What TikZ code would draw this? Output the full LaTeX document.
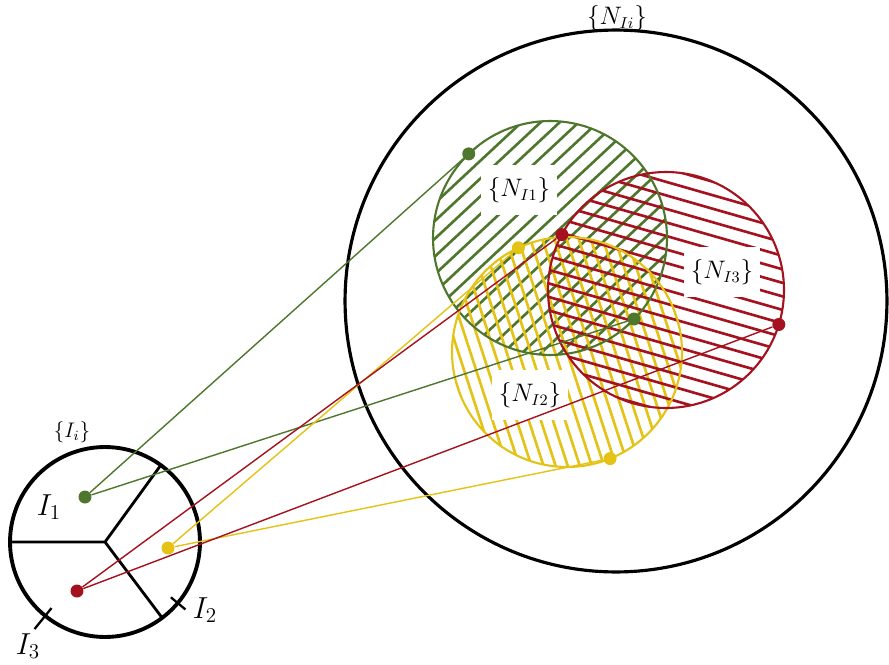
\documentclass[tikz,border=0pt]{standalone}
\usepackage{amsmath,amssymb}
\usepackage{xcolor}
\usepackage{tikz}
\usetikzlibrary{positioning,calc}
\definecolor{grn}{RGB}{78,118,44}
\definecolor{rd}{RGB}{163,18,30}
\definecolor{ylw}{RGB}{228,194,22}
\tikzset{dot/.style={circle,fill=#1,inner sep=0pt,minimum size=0.26cm},lnk/.style={line width=0.8pt,draw=#1},
  disc/.style={circle,draw=#1,line width=1.2pt,inner sep=0pt,outer sep=0pt},
  lbl/.style={fill=white,inner xsep=4pt,inner ysep=7pt,font=\fontsize{13.5}{16}\selectfont},
  sub/.style={font=\fontsize{18}{20}\selectfont}}
\newcommand{\hatchdisk}[5]{%
  \begin{scope}[shift={#1},rotate=#3]
    \clip (0,0) circle (#2);
    \foreach \k in {-12,...,12} \draw[#4,line width=1.5pt] (-#2,\k*#5) -- (#2,\k*#5);
  \end{scope}}

\begin{document}
\begin{tikzpicture}[x=0.02cm,y=0.02cm]
\useasboundingbox (0,0) rectangle (889,664);
% big set
\node[circle,draw,line width=1.8pt,inner sep=0pt,outer sep=0pt,minimum size=10.84cm] (NIi) at (616,363) {};
\node[font=\fontsize{13.5}{16}\selectfont] (tNIi) at (617,646) {$\{N_{Ii}\}$};
% hatched neighbourhoods
\hatchdisk{(550,426)}{117}{43}{grn}{13} \hatchdisk{(567,312)}{115}{-72}{ylw}{11.5} \hatchdisk{(666,374)}{118}{-16}{rd}{13}
\node[lbl] (tN1) at (519,474) {$\{N_{I1}\}$}; \node[lbl] (tN3) at (722,392) {$\{N_{I3}\}$}; \node[lbl] (tN2) at (530,269) {$\{N_{I2}\}$};
\node[disc=grn,minimum size=4.68cm] (N1) at (550,426) {};
\node[disc=ylw,minimum size=4.6cm] (N2) at (567,312) {};
\node[disc=rd,minimum size=4.72cm] (N3) at (666,374) {};
% small set
\node[circle,draw,line width=2.2pt,inner sep=0pt,outer sep=0pt,minimum size=3.8cm] (Ii) at (105,122) {};
\draw[line width=1.6pt] (Ii.center) -- (Ii.180) (Ii.center) -- (Ii.54) (Ii.center) -- (Ii.-53);
\draw[line width=1.3pt] (Ii.center) ++(-40:86) -- ++(-40:19); \draw[line width=1.3pt] (Ii.center) ++(-129:85) -- ++(-129:27);
\node[font=\large] (tIi) at (72,232) {$\{I_i\}$};
\node[sub] (tI1) at (49,157) {$I_1$}; \node[sub] (tI2) at (205,54) {$I_2$}; \node[sub] (tI3) at (28,18) {$I_3$};
% points and maps
\node[dot=grn] (g1) at (85,167) {}; \node[dot=ylw] (y1) at (168,116) {}; \node[dot=rd] (r1) at (77,73) {};
\node[dot=grn] (g2) at (N1.134) {}; \node[dot=grn] (g3) at (634,345) {};
\node[dot=ylw] (y2) at (N2.115) {}; \node[dot=ylw] (y3) at (N2.-68) {};
\node[dot=rd] (r2) at (N3.152) {}; \node[dot=rd] (r3) at (N3.-17) {};
\draw[lnk=grn] (g1) -- (g2); \draw[lnk=grn] (g1) -- (g3);
\draw[lnk=ylw] (y1) -- (y2); \draw[lnk=ylw] (y1) -- (y3);
\draw[lnk=rd] (r1) -- (r2); \draw[lnk=rd] (r1) -- (r3);
\end{tikzpicture}
\end{document}
